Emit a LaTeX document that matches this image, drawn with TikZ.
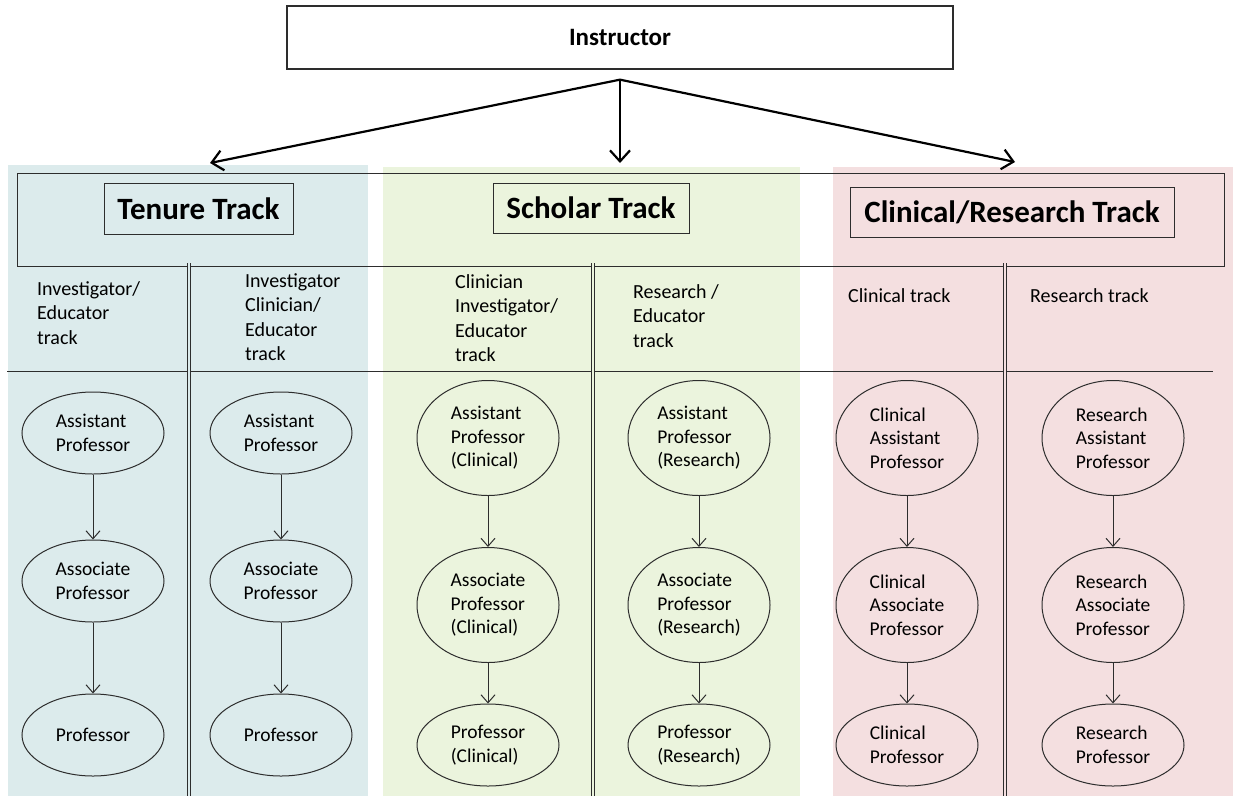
\documentclass[tikz,border=0pt]{standalone}
\usepackage{fontspec}
\setmainfont{Carlito}
\usetikzlibrary{shapes,positioning,arrows.meta}
\definecolor{tenureBg}{RGB}{220,235,236}
\definecolor{scholarBg}{RGB}{235,244,221}
\definecolor{clinicalBg}{RGB}{244,223,224}
\definecolor{lineGrey}{RGB}{45,45,45}
\tikzset{
    rank/.style={ellipse,draw=lineGrey,line width=1pt,minimum width=142pt,inner sep=0pt,align=left,
        font=\fontsize{19.5}{23.5}\selectfont},
    trackname/.style={draw=lineGrey,line width=1pt,inner sep=0pt,font=\bfseries\fontsize{31}{36}\selectfont},
    subtrack/.style={anchor=north west,inner sep=0pt,align=left,font=\fontsize{20}{24.5}\selectfont},
    promote/.style={-{Straight Barb[length=8pt,width=14pt]},line width=1pt,draw=lineGrey},
    split/.style={-{Straight Barb[length=11pt,width=20pt]},line width=2.2pt},
    divider/.style={draw=lineGrey,double distance=2.4pt,line width=0.9pt}
}

\begin{document}
\begin{tikzpicture}[x=1pt,y=-1pt]

    \useasboundingbox (0,0) rectangle (1233,796);

    \def\xOne{93}
    \def\xTwo{281}
    \def\xThree{488}
    \def\xFour{699}
    \def\xFive{907}
    \def\xSix{1113}
    \def\yAsst{433}
    \def\yAssoc{581}
    \def\yFull{735}
    \def\yAsstTall{438}
    \def\yAssocTall{605}
    \def\yFullTall{745}

    \def\heightShort{82pt}
    \def\heightTall{115pt}

    % coloured lanes
    \fill[tenureBg] (8,165) rectangle (368,796);
    \fill[scholarBg] (383,167) rectangle (800,796);
    \fill[clinicalBg] (833,167) rectangle (1233,796);

    % frame of the track headings
    \draw[lineGrey,line width=1pt] (17,173) rectangle (1224,266);
    \draw[lineGrey,line width=1pt] (7,371) -- (1213,371);
    \draw[divider,double=tenureBg] (189,263) -- (189,796);
    \draw[divider,double=scholarBg] (593,263) -- (593,796);
    \draw[divider,double=clinicalBg] (1005,263) -- (1005,796);

    \node
        [draw=lineGrey,line width=1.3pt,minimum width=666pt,minimum height=63pt,
         font=\bfseries\fontsize{25}{30}\selectfont]
        at (620,37.5)
        (instructor) {Instructor};

    \node[trackname,minimum width=189pt,minimum height=51pt] at (198.5,208.5) (tenure) {Tenure Track};
    \node[trackname,minimum width=196pt,minimum height=50pt] at (591,208) (scholar) {Scholar Track};
    \node[trackname,minimum width=324pt,minimum height=50pt] at (1012,212) (clinres) {Clinical/Research Track};

    \coordinate[below=10pt of instructor] (fork);
    \coordinate (tenureTip) at (210,163);
    \coordinate (scholarTip) at (620,163);
    \coordinate (clinresTip) at (1015,162);

    \draw[split] (fork) -- (tenureTip);
    \draw[split] (fork) -- (scholarTip);
    \draw[split] (fork) -- (clinresTip);

    \node[subtrack] at (37,281) (invEdu) {Investigator/\\Educator\\track};
    \node[subtrack] at (245,273) (invCliEdu) {Investigator\\Clinician/\\Educator\\track};
    \node[subtrack] at (455,274) (cliInvEdu) {Clinician\\Investigator/\\Educator\\track};
    \node[subtrack] at (633,284) (resEdu) {Research /\\Educator\\track};
    \node[subtrack] at (848,288) (clinTrack) {Clinical track};
    \node[subtrack] at (1030,288) (resTrack) {Research track};

    % tenure lanes
    \node[rank,minimum height=\heightShort] at (\xOne,\yAsst) (asstOne) {Assistant\\Professor};
    \node[rank,minimum height=\heightShort] at (\xOne,\yAssoc) (assocOne) {Associate\\Professor};
    \node[rank,minimum height=\heightShort] at (\xOne,\yFull) (fullOne) {Professor};
    \node[rank,minimum height=\heightShort] at (\xTwo,\yAsst) (asstTwo) {Assistant\\Professor};
    \node[rank,minimum height=\heightShort] at (\xTwo,\yAssoc) (assocTwo) {Associate\\Professor};
    \node[rank,minimum height=\heightShort] at (\xTwo,\yFull) (fullTwo) {Professor};

    % scholar lanes
    \node[rank,minimum height=\heightTall] at (\xThree,\yAsstTall) (asstThree) {Assistant\\Professor\\(Clinical)};
    \node[rank,minimum height=\heightTall] at (\xThree,\yAssocTall) (assocThree) {Associate\\Professor\\(Clinical)};
    \node[rank,minimum height=\heightShort] at (\xThree,\yFullTall) (fullThree) {Professor\\(Clinical)};
    \node[rank,minimum height=\heightTall] at (\xFour,\yAsstTall) (asstFour) {Assistant\\Professor\\(Research)};
    \node[rank,minimum height=\heightTall] at (\xFour,\yAssocTall) (assocFour) {Associate\\Professor\\(Research)};
    \node[rank,minimum height=\heightShort] at (\xFour,\yFullTall) (fullFour) {Professor\\(Research)};

    % clinical / research lanes
    \node[rank,minimum height=\heightTall] at (\xFive,\yAsstTall) (asstFive) {Clinical\\Assistant\\Professor};
    \node[rank,minimum height=\heightTall] at (\xFive,\yAssocTall) (assocFive) {Clinical\\Associate\\Professor};
    \node[rank,minimum height=\heightShort] at (\xFive,\yFullTall) (fullFive) {Clinical\\Professor};
    \node[rank,minimum height=\heightTall] at (\xSix,\yAsstTall) (asstSix) {Research\\Assistant\\Professor};
    \node[rank,minimum height=\heightTall] at (\xSix,\yAssocTall) (assocSix) {Research\\Associate\\Professor};
    \node[rank,minimum height=\heightShort] at (\xSix,\yFullTall) (fullSix) {Research\\Professor};

    \foreach \lane in {One,Two,Three,Four,Five,Six} {
        \draw[promote] (asst\lane.south) -- (assoc\lane.north);
        \draw[promote] (assoc\lane.south) -- (full\lane.north);
    }

\end{tikzpicture}
\end{document}
